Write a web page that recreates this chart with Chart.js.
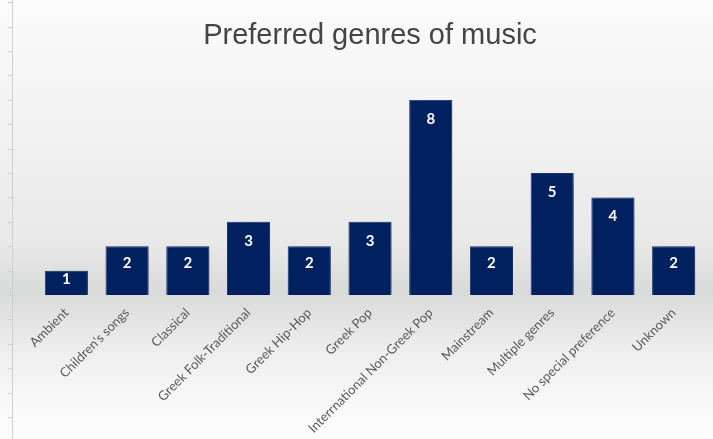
<!DOCTYPE html>
<html>
<head>
<meta charset="utf-8">
<script src="https://cdn.jsdelivr.net/npm/chart.js@4/dist/chart.umd.min.js"></script>
<style>
  html, body { margin: 0; padding: 0; background: #fff; }
  #wrap { width: 713px; height: 439px; position: relative; }
</style>
</head>
<body>
<div id="wrap"><canvas id="genreChart" width="713" height="439"></canvas></div>
<script>
const genres = [
  "Ambient",
  "Children's songs",
  "Classical",
  "Greek Folk-Traditional",
  "Greek Hip-Hop",
  "Greek Pop",
  "Interrnational Non-Greek Pop",
  "Mainstream",
  "Multiple genres",
  "No special preference",
  "Unknown",
];
const counts = [1, 2, 2, 3, 2, 3, 8, 2, 5, 4, 2];
const chartTitle = "Preferred genres of music";

// soft grey "floor" behind the plot + left tick strip
const backdrop = {
  id: "backdrop",
  beforeDraw(chart) {
    const { ctx, width, height } = chart;
    const g = ctx.createLinearGradient(0, 0, 0, height);
    g.addColorStop(0, "#fbfbfb");
    g.addColorStop(0.2, "#f5f5f5");
    g.addColorStop(0.55, "#e9e9e9");
    g.addColorStop(0.665, "#d9dada");
    g.addColorStop(0.7, "#dfdfdf");
    g.addColorStop(0.8, "#eeeeee");
    g.addColorStop(0.92, "#f9f9f9");
    g.addColorStop(1, "#fcfcfc");
    ctx.save();
    ctx.fillStyle = g;
    ctx.fillRect(0, 0, width, height);

    const y = chart.scales.y;
    ctx.strokeStyle = "#cfcfcf";
    ctx.lineWidth = 1;
    ctx.beginPath();
    ctx.moveTo(12.5, 0);
    ctx.lineTo(12.5, height);
    for (let v = -8; v <= 14; v++) {
      const py = Math.round(y.getPixelForValue(v)) + 0.5;
      if (py < 2 || py > height) continue;
      ctx.moveTo(8, py);
      ctx.lineTo(12.5, py);
    }
    ctx.stroke();
    ctx.restore();
  },
  beforeDatasetsDraw(chart) {
    const ctx = chart.ctx;
    ctx.save();
    ctx.shadowColor = "rgba(0,0,0,0.28)";
    ctx.shadowBlur = 12;
    ctx.shadowOffsetX = 7;
    ctx.shadowOffsetY = 0;
  },
  afterDatasetsDraw(chart) {
    const ctx = chart.ctx;
    ctx.restore();
    const meta = chart.getDatasetMeta(0);
    ctx.save();
    ctx.fillStyle = "#ffffff";
    ctx.font = "bold 15px Lato";
    ctx.textAlign = "center";
    ctx.textBaseline = "middle";
    meta.data.forEach((bar, i) => {
      const h = bar.base - bar.y;
      const ty = bar.y + Math.min(19, h * 0.34);
      ctx.fillText(String(counts[i]), bar.x, ty);
    });
    ctx.restore();
  },
};

const ctx = document.getElementById("genreChart").getContext("2d");

new Chart(ctx, {
  type: "bar",
  data: {
    labels: genres,
    datasets: [
      {
        label: "Count",
        data: counts,
        backgroundColor: "#012060",
        borderColor: "#1d3a78",
        borderWidth: 1,
        categoryPercentage: 1,
        barPercentage: 0.71,
      },
    ],
  },
  options: {
    responsive: false,
    animation: false,
    layout: { padding: { left: 36, right: 9, top: 0, bottom: 1 } },
    plugins: {
      legend: { display: false },
      tooltip: { enabled: false },
      title: {
        display: true,
        text: chartTitle,
        color: "#454545",
        font: { family: "Liberation Sans", size: 29, weight: "normal" },
        padding: { top: 19, bottom: 46 },
      },
    },
    scales: {
      x: {
        grid: { display: false },
        border: { display: false },
        ticks: {
          color: "#595959",
          font: { family: "Lato", size: 13 },
          minRotation: 45,
          maxRotation: 45,
          padding: 2,
        },
      },
      y: {
        display: false,
        min: 0,
        max: 8,
      },
    },
  },
  plugins: [backdrop],
});
</script>
</body>
</html>
